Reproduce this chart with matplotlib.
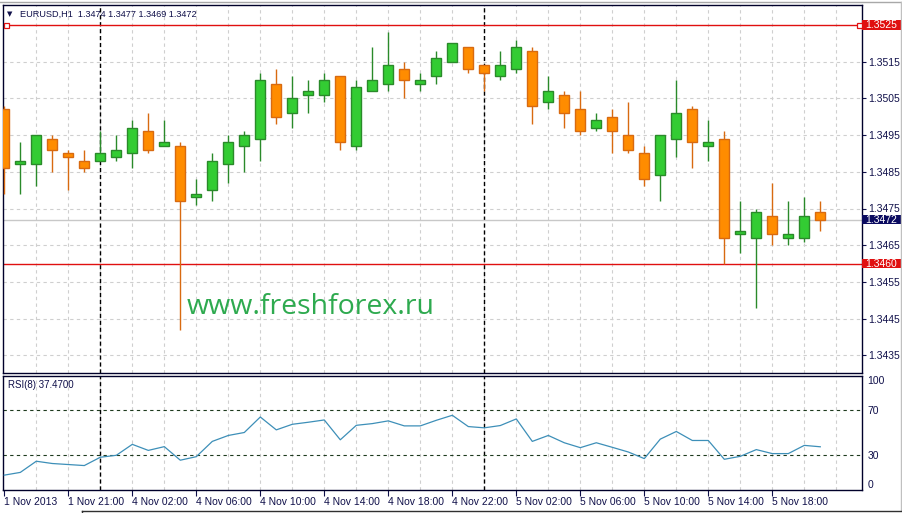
import numpy as np
import matplotlib
matplotlib.use("Agg")
import matplotlib.pyplot as plt
import matplotlib.transforms as mtransforms
from matplotlib.patches import Rectangle
from matplotlib.lines import Line2D

plt.rcParams['font.family'] = ['Liberation Sans', 'DejaVu Sans']

# ---------------- data ----------------
symbol = "EURUSD,H1"
opens = [1.3502, 1.3487, 1.3487, 1.3494, 1.3490, 1.3488, 1.3488, 1.3489, 1.3490, 1.3496,
         1.3492, 1.3492, 1.3478, 1.3480, 1.3487, 1.3492, 1.3494, 1.3509, 1.3501, 1.3506,
         1.3506, 1.3511, 1.3492, 1.3507, 1.3509, 1.3513, 1.3509, 1.3511, 1.3515, 1.3519,
         1.3514, 1.3511, 1.3513, 1.3518, 1.3504, 1.3506, 1.3502, 1.3497, 1.3500, 1.3495,
         1.3490, 1.3484, 1.3494, 1.3502, 1.3492, 1.3494, 1.3468, 1.3467, 1.3473, 1.3467,
         1.3467, 1.3474]
highs = [1.3503, 1.3493, 1.3495, 1.3495, 1.3491, 1.3491, 1.3496, 1.3495, 1.3499, 1.3501,
         1.3499, 1.3493, 1.3483, 1.3490, 1.3495, 1.3496, 1.3512, 1.3513, 1.3511, 1.3510,
         1.3512, 1.3511, 1.3510, 1.3519, 1.3523, 1.3515, 1.3512, 1.3518, 1.3520, 1.3519,
         1.3514, 1.3518, 1.3521, 1.3519, 1.3511, 1.3507, 1.3507, 1.3501, 1.3502, 1.3504,
         1.3492, 1.3495, 1.3510, 1.3503, 1.3499, 1.3496, 1.3477, 1.3475, 1.3482, 1.3477,
         1.3478, 1.3477]
lows = [1.3479, 1.3479, 1.3481, 1.3485, 1.3480, 1.3485, 1.3488, 1.3488, 1.3486, 1.3490,
        1.3492, 1.3442, 1.3476, 1.3477, 1.3482, 1.3485, 1.3488, 1.3498, 1.3497, 1.3501,
        1.3504, 1.3491, 1.3491, 1.3507, 1.3507, 1.3505, 1.3507, 1.3509, 1.3515, 1.3512,
        1.3507, 1.3510, 1.3512, 1.3498, 1.3502, 1.3497, 1.3495, 1.3496, 1.3490, 1.3490,
        1.3481, 1.3477, 1.3489, 1.3486, 1.3488, 1.3460, 1.3463, 1.3448, 1.3465, 1.3465,
        1.3466, 1.3469]
closes = [1.3486, 1.3488, 1.3495, 1.3491, 1.3489, 1.3486, 1.3490, 1.3491, 1.3497, 1.3491,
          1.3493, 1.3477, 1.3479, 1.3488, 1.3493, 1.3495, 1.3510, 1.3500, 1.3505, 1.3507,
          1.3510, 1.3493, 1.3508, 1.3510, 1.3514, 1.3510, 1.3510, 1.3516, 1.3520, 1.3513,
          1.3512, 1.3514, 1.3519, 1.3503, 1.3507, 1.3501, 1.3496, 1.3499, 1.3496, 1.3491,
          1.3483, 1.3495, 1.3501, 1.3493, 1.3493, 1.3467, 1.3469, 1.3474, 1.3468, 1.3468,
          1.3473, 1.3472]
rsi = [12.6, 15.0, 24.8, 22.8, 21.9, 21.0, 28.3, 30.0, 39.6, 34.3,
       37.6, 25.7, 28.8, 42.2, 47.4, 50.0, 63.6, 52.3, 57.2, 59.0,
       61.0, 43.6, 56.3, 57.8, 60.2, 55.8, 55.8, 60.7, 65.1, 55.2,
       54.1, 56.1, 61.9, 42.2, 47.4, 41.0, 36.7, 41.0, 37.0, 32.9,
       27.1, 44.2, 50.9, 43.0, 43.0, 26.5, 29.1, 35.0, 31.5, 31.5,
       38.7, 37.47]
rsi_period = 8
xtick_idx = [0, 4, 8, 12, 16, 20, 24, 28, 32, 36, 40, 44, 48]
xtick_labels = ["1 Nov 2013", "1 Nov 21:00", "4 Nov 02:00", "4 Nov 06:00", "4 Nov 10:00",
                "4 Nov 14:00", "4 Nov 18:00", "4 Nov 22:00", "5 Nov 02:00", "5 Nov 06:00",
                "5 Nov 10:00", "5 Nov 14:00", "5 Nov 18:00"]
price_ticks = [1.3435, 1.3445, 1.3455, 1.3465, 1.3475, 1.3485, 1.3495, 1.3505, 1.3515]
red_levels = [1.3525, 1.3460]
separator_idx = [6, 30]
rsi_levels = [30, 70]
rsi_ticks = [0, 30, 70, 100]
watermark = "www.freshforex.ru"

# ---------------- styles ----------------
W, H = 903, 513
NAVY = '#10104a'
GRID = '#cfcfcf'
BULL_FILL, BULL_EDGE = '#33cc33', '#2a8a2a'
BEAR_FILL, BEAR_EDGE = '#ff8c00', '#d86a10'
RED = '#e01010'

fig = plt.figure(figsize=(W / 100, H / 100), dpi=100)
fig.patch.set_facecolor('white')


def frac(x0, y0, x1, y1):
    return [x0 / W, 1 - y1 / H, (x1 - x0) / W, (y1 - y0) / H]


L, R = 3.3, 861.7
MT, MB = 5.0, 372.7
RT, RB = 375.5, 489.5
ax = fig.add_axes(frac(L, MT, R, MB))
axr = fig.add_axes(frac(L, RT, R, RB), sharex=ax)

step_px, x0_px = 16.0, 4.3
xlim = ((L - x0_px) / step_px, (R - x0_px) / step_px)
px_per_unit = 36.7 / 0.001
ylim = (1.3525 - (MB - 25) / px_per_unit, 1.3525 + (25 - MT) / px_per_unit)
ax.set_xlim(*xlim)
ax.set_ylim(*ylim)
axr.set_ylim(0.9, 100)

o = np.array(opens); h = np.array(highs); l = np.array(lows); c = np.array(closes)
x = np.arange(len(o))
up = c >= o

# grid
for a in (ax, axr):
    for gx in range(2, int(xlim[1]) + 1, 2):
        a.axvline(gx, color=GRID, lw=0.8, ls=(0, (3, 3)), zorder=0)
    for sx in separator_idx:
        a.axvline(sx, color='black', lw=1.0, ls=(0, (3, 2)), zorder=1)
for py in price_ticks:
    ax.axhline(py, color=GRID, lw=0.8, ls=(0, (3, 3)), zorder=0)

# bid line and red lines
ax.axhline(closes[-1], color='#c8c8c8', lw=1, zorder=1)
for lv in red_levels:
    ax.axhline(lv, color=RED, lw=1, zorder=2)
blend = mtransforms.blended_transform_factory(ax.transAxes, ax.transData)
axw = R - L
ax.plot([(6 - L) / axw, (859 - L) / axw], [red_levels[0]] * 2, ls='none', marker='s',
        ms=3.6, mfc='white', mec=RED, mew=0.9, transform=blend, clip_on=False, zorder=6)

# candles
ax.vlines(x[up], l[up], h[up], colors=BULL_EDGE, lw=1, zorder=3)
ax.vlines(x[~up], l[~up], h[~up], colors=BEAR_EDGE, lw=1, zorder=3)
ax.bar(x[up], (c - o)[up], bottom=o[up], width=0.62, color=BULL_FILL,
       edgecolor=BULL_EDGE, lw=1, zorder=4)
ax.bar(x[~up], (o - c)[~up], bottom=c[~up], width=0.62, color=BEAR_FILL,
       edgecolor=BEAR_EDGE, lw=1, zorder=4)

# right axis
ax.yaxis.tick_right()
ax.set_yticks(price_ticks)
ax.set_yticklabels([f"{p:.4f}" for p in price_ticks])
ax.tick_params(axis='y', length=3, width=0.8, color=NAVY, labelsize=7.5,
               labelcolor=NAVY, pad=2)
ax.tick_params(axis='x', bottom=False, labelbottom=False)

# label boxes
ppx = 1 / px_per_unit
box_w = (901 - R) / axw
for val, col in [(red_levels[0], RED), (red_levels[1], RED), (closes[-1], '#0a0a60')]:
    ax.add_patch(Rectangle((1.0, val - 4.8 * ppx), box_w, 9.6 * ppx, transform=blend,
                           facecolor=col, edgecolor='none', clip_on=False, zorder=7))
    ax.text(1.0 + 4 / axw, val, f"{val:.4f}", transform=blend, color='white',
            fontsize=7.5, va='center', ha='left', zorder=8, clip_on=False)

# title
ax.text((10 - L) / axw, 1 - (14 - MT) / (MB - MT), '\u25BC', transform=ax.transAxes,
        fontsize=5, color=NAVY, va='center', ha='center', family='DejaVu Sans')
ax.text((20 - L) / axw, 1 - (14 - MT) / (MB - MT),
        f"{symbol}  {opens[-1]:.4f} {highs[-1]:.4f} {lows[-1]:.4f} {closes[-1]:.4f}",
        transform=ax.transAxes, fontsize=6.6, color=NAVY, va='center', ha='left')

# watermark
ax.text((187 - L) / axw, (MB - 314.3) / (MB - MT), watermark, transform=ax.transAxes,
        fontsize=20.5, color='#2eaa4f', va='baseline', ha='left', family='Open Sans', zorder=5)

# RSI panel
for lv in rsi_levels:
    axr.axhline(lv, color='#1e3a1e', lw=0.8, ls=(0, (3, 3)), zorder=1)
axr.plot(x, rsi, color='#3d8fb8', lw=0.9, zorder=3)
axr.text((8 - L) / axw, 1 - (379.5 - RT) / (RB - RT), f"RSI({rsi_period}) {rsi[-1]:.4f}",
         transform=axr.transAxes, fontsize=7, color=NAVY, va='top', ha='left')
axr.yaxis.tick_right()
axr.set_yticks(rsi_ticks)
axr.set_yticklabels([str(t) for t in rsi_ticks])
axr.tick_params(axis='y', length=0, labelsize=7.5, labelcolor=NAVY, pad=4)
for t, lbl in zip(rsi_ticks, axr.get_yticklabels()):
    if t == 100:
        lbl.set_va('top')
    elif t == 0:
        lbl.set_va('bottom')
axr.set_xticks(xtick_idx)
axr.set_xticklabels(xtick_labels)
axr.tick_params(axis='x', length=4, width=0.8, color=NAVY, labelsize=7.5,
                labelcolor=NAVY, pad=1.5, direction='out')
for lbl in axr.get_xticklabels():
    lbl.set_ha('left')

for a in (ax, axr):
    a.set_facecolor('white')
    for s in a.spines.values():
        s.set_color('#00002a')
        s.set_linewidth(1)

# window chrome
fig.add_artist(Line2D([0, 1], [1 - 1.5 / H] * 2, color='#a8a8a8', lw=1))
fig.add_artist(Line2D([901 / W] * 2, [1 - 1.5 / H, 1 - 509.5 / H], color='#c0c0c0', lw=1))
fig.add_artist(Line2D([82 / W, 1], [1 - 510.5 / H] * 2, color='#303030', lw=1))
fig.add_artist(Line2D([82 / W] * 2, [1 - 510.5 / H, 0], color='#303030', lw=1))

fig.savefig("out.png", dpi=100, facecolor='white')
